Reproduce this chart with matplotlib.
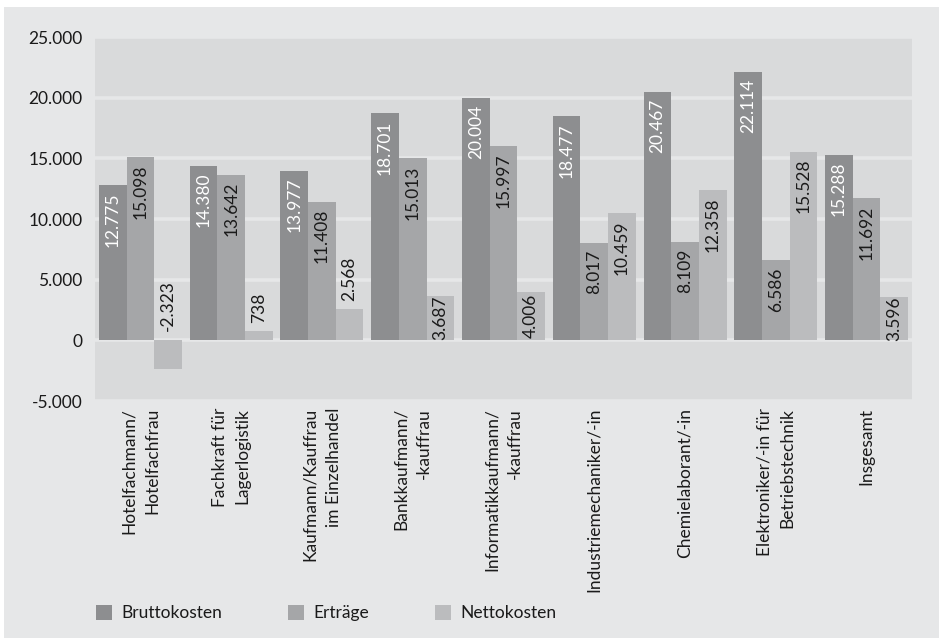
import matplotlib
matplotlib.use("Agg")
import matplotlib.pyplot as plt
import matplotlib.transforms as mtransforms
import numpy as np
from matplotlib.patches import Rectangle
from matplotlib.ticker import FuncFormatter

plt.rcParams['font.family'] = ['Lato', 'DejaVu Sans']

categories = [
    "Hotelfachmann/\nHotelfachfrau",
    "Fachkraft für\nLagerlogistik",
    "Kaufmann/Kauffrau\nim Einzelhandel",
    "Bankkaufmann/\n-kauffrau",
    "Informatikkaufmann/\n-kauffrau",
    "Industriemechaniker/-in",
    "Chemielaborant/-in",
    "Elektroniker/-in für\nBetriebstechnik",
    "Insgesamt",
]
bruttokosten = [12775, 14380, 13977, 18701, 20004, 18477, 20467, 22114, 15288]
ertraege = [15098, 13642, 11408, 15013, 15997, 8017, 8109, 6586, 11692]
nettokosten = [-2323, 738, 2568, 3687, 4006, 10459, 12358, 15528, 3596]

series = [
    ("Bruttokosten", bruttokosten, "#8d8e90", "white"),
    ("Erträge", ertraege, "#a5a6a8", "#1a1a1a"),
    ("Nettokosten", nettokosten, "#bbbcbe", "#1a1a1a"),
]

panel = "#e6e7e8"
plot_bg = "#d9dadb"
text_col = "#1a1a1a"
fs = 12.5


def de_thousands(v, pos=None):
    s = f"{abs(int(round(v))):,}".replace(",", ".")
    return ("-" if v < 0 else "") + s


fig = plt.figure(figsize=(9.39, 6.39), dpi=100, facecolor="white")
fig.patches.append(Rectangle((4 / 939, 1 / 639), 935 / 939, 631 / 639,
                             transform=fig.transFigure, facecolor=panel,
                             edgecolor="none", zorder=-10))

ax = fig.add_axes([95 / 939, 238 / 639, 817 / 939, 364 / 639])
ax.set_facecolor(plot_bg)
ax.set_ylim(-5000, 25000)
ax.set_xlim(-0.5, len(categories) - 0.5)
ax.set_yticks(np.arange(-5000, 25001, 5000))
ax.yaxis.set_major_formatter(FuncFormatter(de_thousands))
ax.grid(axis="y", color=panel, linewidth=2.6, zorder=0)
ax.set_axisbelow(True)
for sp in ax.spines.values():
    sp.set_visible(False)
ax.tick_params(axis="both", length=0, labelsize=fs, colors=text_col)
ax.tick_params(axis="y", pad=9)

x = np.arange(len(categories))
w = 0.305
bars_all = []
for i, (name, vals, col, lcol) in enumerate(series):
    bars = ax.bar(x + (i - 1) * w, vals, width=w, color=col, label=name, zorder=2)
    bars_all.append((bars, vals, lcol))

# category names, rotated and hanging below the plot area
ax.set_xticks(x)
ax.set_xticklabels([])
below = ax.transData + mtransforms.ScaledTranslation(0, -7 / 100, fig.dpi_scale_trans)
for xi, lab in zip(x, categories):
    ax.text(xi, -5000, lab, rotation=90, ha="center", va="top",
            multialignment="right", fontsize=fs, color=text_col,
            linespacing=1.55, transform=below, clip_on=False)

# value labels: inside the bar end when they fit, otherwise above the bar
fig.canvas.draw()
renderer = fig.canvas.get_renderer()
px_per_unit = (ax.transData.transform((0, 1000))[1] - ax.transData.transform((0, 0))[1]) / 1000.0
pad_px = 7
for bars, vals, lcol in bars_all:
    for b, v in zip(bars, vals):
        cx = b.get_x() + b.get_width() / 2
        t = ax.text(cx, v, de_thousands(v), rotation=90, ha="center", va="top",
                    fontsize=fs, color=lcol, zorder=3)
        h = t.get_window_extent(renderer).height
        bar_px = abs(v) * px_per_unit
        if v < 0:
            t.set_y(0 + 9 / px_per_unit)
            t.set_va("bottom")
            t.set_color(text_col)
        elif h + 2 * pad_px <= bar_px:
            t.set_y(v - pad_px / px_per_unit)
        elif h <= bar_px + 4:
            t.set_y(v / 2)
            t.set_va("center")
        else:
            t.set_y(v + 8 / px_per_unit)
            t.set_va("bottom")
            t.set_color(text_col)

fig.legend(loc="lower left", bbox_to_anchor=(80 / 939, 2 / 639),
           ncol=3, frameon=False, fontsize=fs, handlelength=0.95,
           handleheight=0.95, handletextpad=0.55, columnspacing=3.75,
           labelcolor=text_col)

fig.savefig("out.png", dpi=100, facecolor="white")
